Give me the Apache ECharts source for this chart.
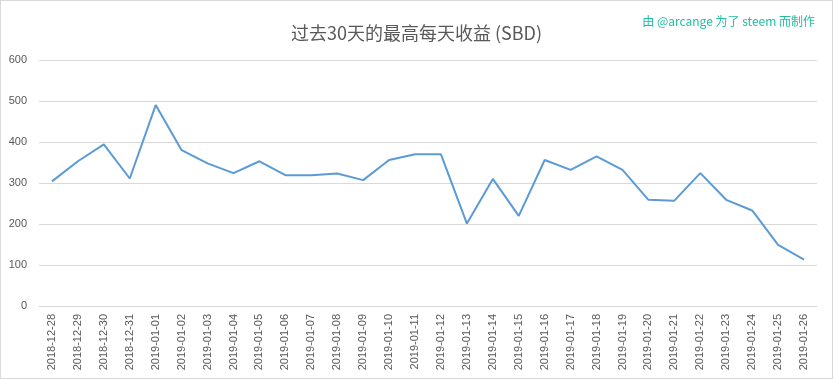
<!DOCTYPE html>
<html><head><meta charset="utf-8">
<script src="https://cdn.jsdelivr.net/npm/echarts@6/dist/echarts.min.js"></script>
<style>html,body{margin:0;padding:0;background:#fff}#c{width:833px;height:379px;box-sizing:border-box;border:1px solid #d9d9d9}</style>
</head><body><div id="c"></div>
<script>
const categories = ["2018-12-28","2018-12-29","2018-12-30","2018-12-31","2019-01-01","2019-01-02","2019-01-03","2019-01-04","2019-01-05","2019-01-06","2019-01-07","2019-01-08","2019-01-09","2019-01-10","2019-01-11","2019-01-12","2019-01-13","2019-01-14","2019-01-15","2019-01-16","2019-01-17","2019-01-18","2019-01-19","2019-01-20","2019-01-21","2019-01-22","2019-01-23","2019-01-24","2019-01-25","2019-01-26"];
const values = [304,353,394,311,490,380,348,324,353,319,319,323,307,356,370,370,201,310,220,356,332,365,332,259,257,324,259,233,149,113];
const titleText = "过去30天的最高每天收益 (SBD)";
const creditText = "由 @arcange 为了 steem 而制作";
const chart = echarts.init(document.getElementById('c'), null, {renderer:'canvas'});
chart.setOption({
  animation:false,
  title:[{text:titleText,left:'center',top:18,textStyle:{fontFamily:'Noto Sans CJK SC',fontSize:18,fontWeight:'normal',color:'#595959'}},
         {text:creditText,right:12,top:9,textStyle:{fontFamily:'Noto Sans CJK SC',fontSize:12,fontWeight:'normal',color:'#1fbfa0'}}],
  grid:{left:38,right:15,top:59,bottom:72,containLabel:false},
  xAxis:{type:'category',data:categories,boundaryGap:true,
    axisLine:{lineStyle:{color:'#d9d9d9'}},axisTick:{show:false},
    axisLabel:{rotate:90,interval:0,color:'#595959',fontSize:11,fontFamily:'Liberation Sans',margin:8}},
  yAxis:{type:'value',min:0,max:600,interval:100,
    axisLine:{show:false},axisTick:{show:false},
    splitLine:{lineStyle:{color:'#d9d9d9'}},
    axisLabel:{color:'#595959',fontSize:11,fontFamily:'Liberation Sans',margin:12}},
  series:[{type:'line',data:values,symbol:'none',lineStyle:{color:'#5b9bd5',width:2},itemStyle:{color:'#5b9bd5'}}]
});
</script></body></html>
